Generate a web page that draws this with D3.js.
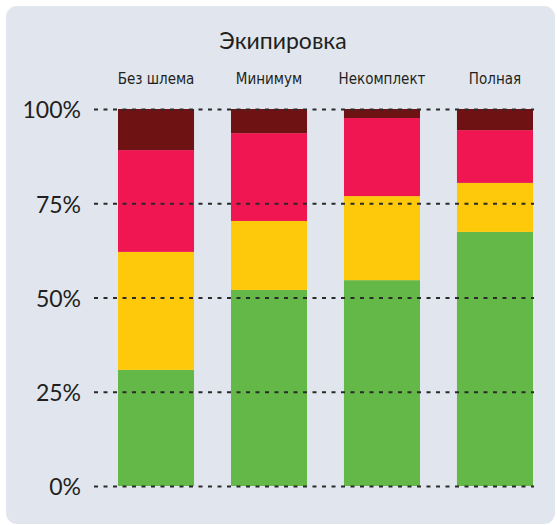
<!doctype html>
<html>
    <head>
        <meta charset="utf-8">
        <title>Экипировка</title>
        <script src="https://d3js.org/d3.v7.min.js"></script>
        <style type="text/css">
            body { margin:0; background:#fff; }
            text { font-family:"Lato", "Open Sans", sans-serif; fill:#231f20; }
            .cat { font-family:"DejaVu Sans Condensed", "DejaVu Sans", sans-serif; font-stretch:condensed; font-size:15px; }
        </style>
    </head>
    <body>
      <svg></svg>
      <script type="text/javascript">

        let categories = ['Без шлема', 'Минимум', 'Некомплект', 'Полная'];
        let green  = [30.8, 52.0, 54.6, 67.4];
        let yellow = [31.3, 18.3, 22.3, 13.0];
        let red    = [27.0, 23.3, 20.7, 14.0];
        let dark   = [10.9, 6.4, 2.4, 5.6];
        let tickValues = [0, 25, 50, 75, 100];
        let title = 'Экипировка';

        let w = 557,
            h = 525;

        let seriesKeys = ['green', 'yellow', 'red', 'dark'];
        let colors = ['#64b848', '#ffc90b', '#ef1651', '#6f1213'];

        let table = categories.map(function(c, i) {
            return { cat: c, green: green[i], yellow: yellow[i], red: red[i], dark: dark[i] };
        });

        let svg = d3.select('svg')
                    .attr('width', w)
                    .attr('height', h);

        svg.append('rect')
           .attr('x', 6).attr('y', 6)
           .attr('width', 549).attr('height', 518)
           .attr('rx', 11)
           .attr('fill', '#e1e6ee');

        let xScale = d3.scaleBand()
                       .domain(categories)
                       .range([118, 533])
                       .paddingInner(0.327)
                       .paddingOuter(0);
        let yScale = d3.scaleLinear()
                       .domain([0, 100])
                       .range([486, 109]);

        let stack = d3.stack().keys(seriesKeys);
        let layers = stack(table);

        svg.selectAll('g.layer')
           .data(layers)
           .enter()
           .append('g')
           .attr('class', 'layer')
           .attr('fill', function(d, i) { return colors[i]; })
           .selectAll('rect')
           .data(function(d) { return d; })
           .enter()
           .append('rect')
           .attr('x', function(d) { return xScale(d.data.cat); })
           .attr('y', function(d) { return yScale(d[1]); })
           .attr('width', xScale.bandwidth())
           .attr('height', function(d) { return yScale(d[0]) - yScale(d[1]); });

        // dotted grid lines on top of the bars
        let gridLeft = 94, gridRight = 534;
        let yAxis = d3.axisLeft(yScale)
                      .tickValues(tickValues)
                      .tickSize(0)
                      .tickFormat(function(d) { return d + '%'; });

        let axisG = svg.append('g')
                       .attr('transform', 'translate(' + gridRight + ',0)')
                       .call(yAxis);
        axisG.select('.domain').remove();
        axisG.selectAll('.tick line')
             .attr('x1', gridLeft - gridRight).attr('x2', 0)
             .attr('stroke', '#2a2a2a')
             .attr('stroke-width', 2)
             .attr('stroke-dasharray', '4,5.5');
        axisG.selectAll('.tick text')
             .attr('x', 81 - gridRight)
             .attr('dy', '0.38em')
             .style('font-size', '23px')
             .style('font-family', 'Lato, sans-serif')
             .attr('fill', '#231f20');

        svg.selectAll('text.cat')
           .data(categories)
           .enter()
           .append('text')
           .attr('class', 'cat')
           .attr('x', function(d) { return xScale(d) + xScale.bandwidth() / 2; })
           .attr('y', 84)
           .attr('text-anchor', 'middle')
           .text(function(d) { return d; });

        svg.append('text')
           .attr('x', 283)
           .attr('y', 49)
           .attr('text-anchor', 'middle')
           .style('font-size', '23px')
           .text(title);
        </script>
    </body>
</html>
